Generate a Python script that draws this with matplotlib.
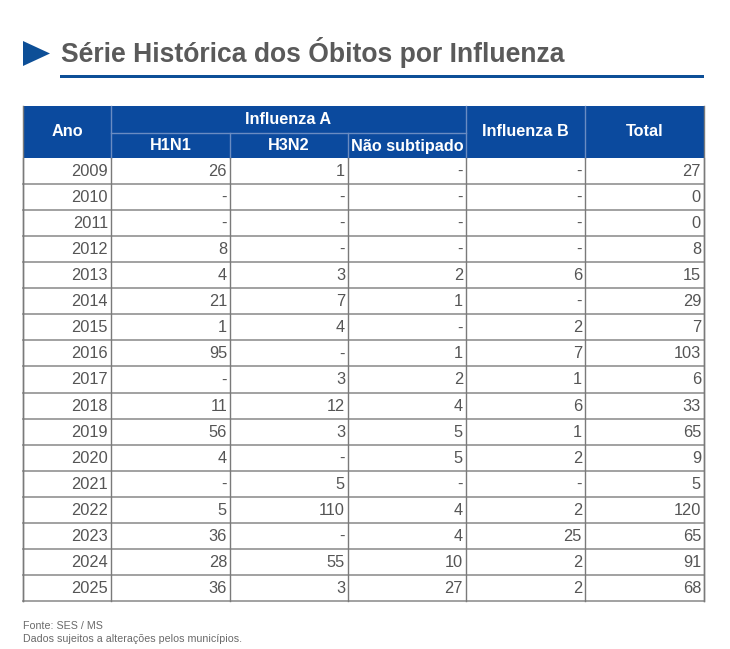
import matplotlib
matplotlib.use("Agg")
import matplotlib.pyplot as plt
from matplotlib.patches import Rectangle, Polygon

plt.rcParams['font.family'] = ['Liberation Sans', 'DejaVu Sans']

# ---- data ----
title = "Série Histórica dos Óbitos por Influenza"
years = [2009, 2010, 2011, 2012, 2013, 2014, 2015, 2016, 2017, 2018,
         2019, 2020, 2021, 2022, 2023, 2024, 2025]
h1n1 = [26, None, None, 8, 4, 21, 1, 95, None, 11, 56, 4, None, 5, 36, 28, 36]
h3n2 = [1, None, None, None, 3, 7, 4, None, 3, 12, 3, None, 5, 110, None, 55, 3]
nao_subtipado = [None, None, None, None, 2, 1, None, 1, 2, 4, 5, 5, None, 4, 4, 10, 27]
influenza_b = [None, None, None, None, 6, None, 2, 7, 1, 6, 1, 2, None, 2, 25, 2, 2]
total = [27, 0, 0, 8, 15, 29, 7, 103, 6, 33, 65, 9, 5, 120, 65, 91, 68]
group_header = "Influenza A"
sub_headers = ["H1N1", "H3N2", "Não subtipado"]
col_headers = ["Ano", "Influenza B", "Total"]
notes = ["Fonte: SES / MS", "Dados sujeitos a alterações pelos municípios."]

# ---- layout (pixels) ----
W, H = 730, 649
fig = plt.figure(figsize=(W / 100, H / 100), dpi=100)
ax = fig.add_axes([0, 0, 1, 1])
ax.set_xlim(0, W)
ax.set_ylim(H, 0)
ax.axis('off')

BLUE = '#0b4a9e'
TXT = '#555555'
GRID = '#9a9a9a'
VGRID = '#7a7a7a'

# title
ax.add_patch(Polygon([[23, 41], [23, 66], [50, 53.5]], closed=True, color='#0d4f97', lw=0))
ax.text(61, 62, title, fontsize=19.1, fontweight='bold', color='#5a5a5a',
        va='baseline', ha='left')
ax.add_patch(Rectangle((60, 75), 644, 3, color='#0d4f97', lw=0))

# table geometry
xs = [23, 111, 230, 348, 466, 585, 704]
y_top, y_mid, y_hdr = 106, 133, 158
row_h = (601 - y_hdr) / len(years)

# header
ax.add_patch(Rectangle((xs[0], y_top), xs[-1] - xs[0], y_hdr - y_top, color=BLUE, lw=0))
hl = '#6a8cc2'
ax.plot([xs[1], xs[4]], [y_mid, y_mid], color=hl, lw=1)
for x in [xs[1], xs[4], xs[5]]:
    ax.plot([x, x], [y_top, y_hdr], color=hl, lw=1)
for x in [xs[2], xs[3]]:
    ax.plot([x, x], [y_mid, y_hdr], color=hl, lw=1)
hfs = 11.7
ax.text((xs[0] + xs[1]) / 2, (y_top + y_hdr) / 2, col_headers[0], color='white',
        fontweight='bold', fontsize=hfs, ha='center', va='center')
ax.text((xs[1] + xs[4]) / 2, (y_top + y_mid) / 2 + 0.5, group_header, color='white',
        fontweight='bold', fontsize=hfs, ha='center', va='center')
for i, s in enumerate(sub_headers):
    ax.text((xs[1 + i] + xs[2 + i]) / 2, (y_mid + y_hdr) / 2 + 0.5, s, color='white',
            fontweight='bold', fontsize=hfs, ha='center', va='center')
ax.text((xs[4] + xs[5]) / 2, (y_top + y_hdr) / 2, col_headers[1], color='white',
        fontweight='bold', fontsize=hfs, ha='center', va='center')
ax.text((xs[5] + xs[6]) / 2, (y_top + y_hdr) / 2, col_headers[2], color='white',
        fontweight='bold', fontsize=hfs, ha='center', va='center')

# body
cols = [years, h1n1, h3n2, nao_subtipado, influenza_b, total]
y_bot = y_hdr + row_h * len(years)
for r in range(len(years)):
    yc = y_hdr + row_h * (r + 0.5)
    for c, col in enumerate(cols):
        v = col[r]
        s = '-' if v is None else str(v)
        ax.text(xs[c + 1] - 3, yc + 0.5, s, color=TXT, fontsize=11.8, ha='right', va='center')
for r in range(1, len(years) + 1):
    y = y_hdr + row_h * r
    ax.plot([xs[0], xs[-1]], [y, y], color=GRID, lw=1.3)
for x in xs:
    ax.plot([x, x], [y_hdr, y_bot], color=VGRID, lw=1)
ax.plot([xs[0], xs[0]], [y_top, y_bot], color=VGRID, lw=1)
ax.plot([xs[-1], xs[-1]], [y_top, y_bot], color=VGRID, lw=1)

# notes
ax.text(23, 626, notes[0], color='#6a6a6a', fontsize=7.7, ha='left', va='center')
ax.text(23, 639, notes[1], color='#6a6a6a', fontsize=7.7, ha='left', va='center')

fig.savefig('out.png', dpi=100)
